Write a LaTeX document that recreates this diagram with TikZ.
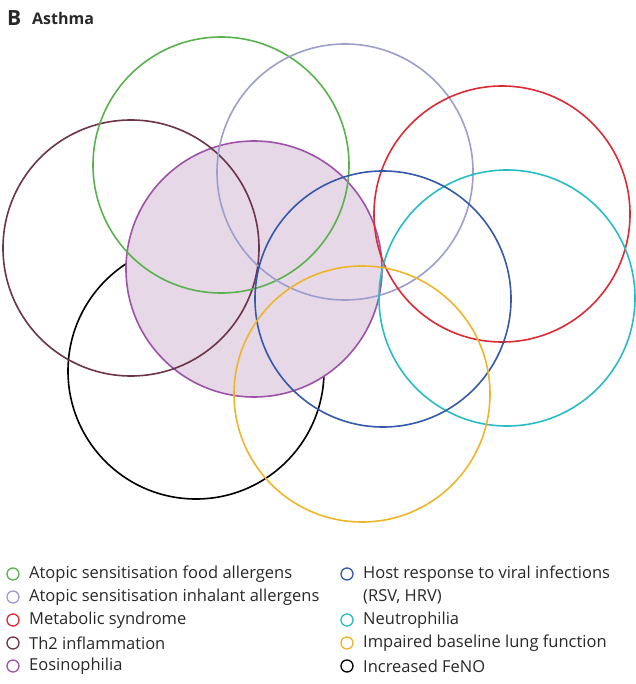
\documentclass[tikz,border=0pt]{standalone}
\usepackage{fontspec}
\setmainfont{Open Sans}
\definecolor{cgreen}{RGB}{88,178,78}
\definecolor{clav}{RGB}{158,158,206}
\definecolor{cred}{RGB}{222,42,52}
\definecolor{cmaroon}{RGB}{108,52,72}
\definecolor{cpurple}{RGB}{158,82,168}
\definecolor{cpfill}{RGB}{231,216,231}
\definecolor{cblue}{RGB}{52,88,170}
\definecolor{ccyan}{RGB}{40,188,198}
\definecolor{corange}{RGB}{236,182,40}
\definecolor{ctext}{RGB}{40,40,40}
\begin{document}
\begin{tikzpicture}[x=1pt,y=-1pt,
  ring/.style={draw=#1,line width=1.6pt},
  key/.style={circle,draw=#1,line width=1.3pt,minimum size=12pt,inner sep=0pt},
  lab/.style={anchor=west,inner sep=0pt,font=\fontsize{16.5}{18}\selectfont,text=ctext}]
\useasboundingbox (0,0) rectangle (635,684);
\node[anchor=west,inner sep=0pt,font=\bfseries\fontsize{21}{23}\selectfont,text=ctext] (B) at (7,18) {B};
\node[anchor=west,inner sep=0pt,font=\bfseries\fontsize{16}{18}\selectfont,text=ctext] (title) at (32,19) {Asthma};
% circles
\draw[ring=black] (196,371) circle (128);
\draw[ring=cpurple,fill=cpfill] (254,269) circle (128);
\draw[ring=cmaroon] (131,248) circle (128);
\draw[ring=cgreen] (221,165) circle (128);
\draw[ring=clav] (345,172) circle (128);
\draw[ring=cred] (502,214) circle (128);
\draw[ring=ccyan] (507,298) circle (128);
\draw[ring=cblue] (383,299) circle (128);
\draw[ring=corange] (362,394) circle (128);
% legend
\node[key=cgreen] (k1) at (13,574) {};
\node[lab] (t1) at (29,574) {Atopic sensitisation food allergens};
\node[key=clav] (k2) at (13,597) {};
\node[lab] (t2) at (29,597) {Atopic sensitisation inhalant allergens};
\node[key=cred] (k3) at (13,620) {};
\node[lab] (t3) at (29,620) {Metabolic syndrome};
\node[key=cmaroon] (k4) at (13,643) {};
\node[lab] (t4) at (29,643) {Th2 inflammation};
\node[key=cpurple] (k5) at (13,666) {};
\node[lab] (t5) at (29,666) {Eosinophilia};
\node[key=cblue] (k6) at (347,574) {};
\node[lab] (t6) at (363,574) {Host response to viral infections};
\node[lab] (t6b) at (363,597) {(RSV, HRV)};
\node[key=ccyan] (k7) at (347,620) {};
\node[lab] (t7) at (363,620) {Neutrophilia};
\node[key=corange] (k8) at (347,643) {};
\node[lab] (t8) at (363,643) {Impaired baseline lung function};
\node[key=black] (k9) at (347,666) {};
\node[lab] (t9) at (363,666) {Increased FeNO};
\end{tikzpicture}
\end{document}
